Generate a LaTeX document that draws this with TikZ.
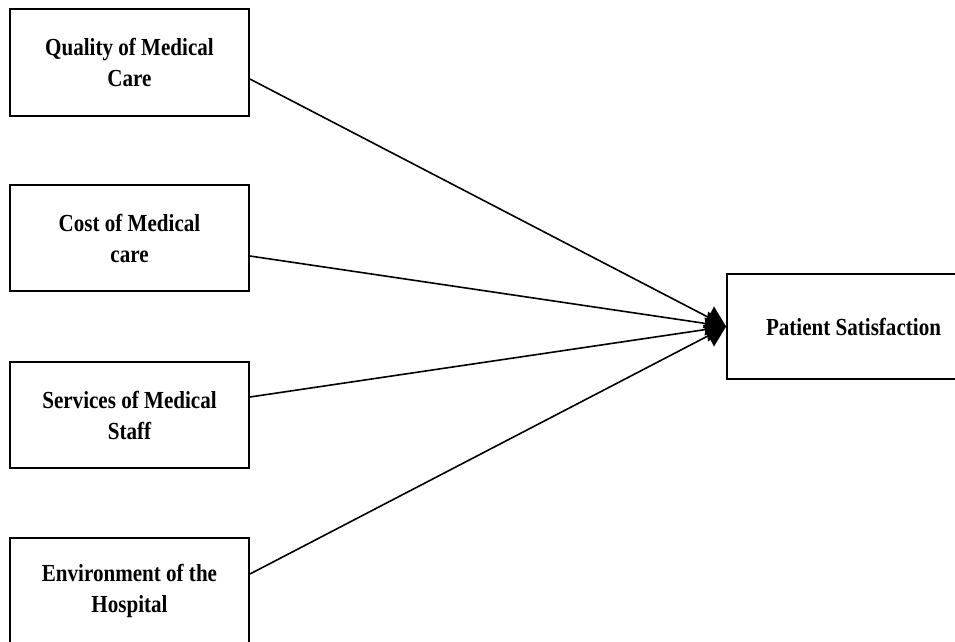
\documentclass[tikz,border=0pt]{standalone}
\usepackage{fontspec}
\setmainfont{Liberation Serif}[FakeStretch=0.86]
\usetikzlibrary{arrows.meta}
\begin{document}
\begin{tikzpicture}[x=1pt,y=-1pt,
  box/.style={draw, line width=1.8pt, minimum width=239pt, minimum height=106pt,
    inner sep=0pt, align=center, font=\fontsize{24.5}{31}\selectfont\bfseries},
  link/.style={line width=1.6pt, -{Triangle[length=20pt,width=24pt]}}]
\clip (0,0) rectangle (955,641);
\node[box, minimum height=107pt] (q) at (129.5,62.5) {Quality of Medical\\Care};
\node[box] (c) at (129.5,238) {Cost of Medical\\care};
\node[box] (s) at (129.5,415) {Services of Medical\\Staff};
\node[box] (e) at (129.5,591) {Environment of the\\Hospital};
\node[box, minimum width=253pt, minimum height=105pt] (p) at (853.5,326.5) {Patient Satisfaction};
\draw[link] ([yshift=-16.5pt]q.east) -- (p.west);
\draw[link] ([yshift=-18pt]c.east) -- (p.west);
\draw[link] ([yshift=18pt]s.east) -- (p.west);
\draw[link] ([yshift=17pt]e.east) -- (p.west);
\end{tikzpicture}
\end{document}
